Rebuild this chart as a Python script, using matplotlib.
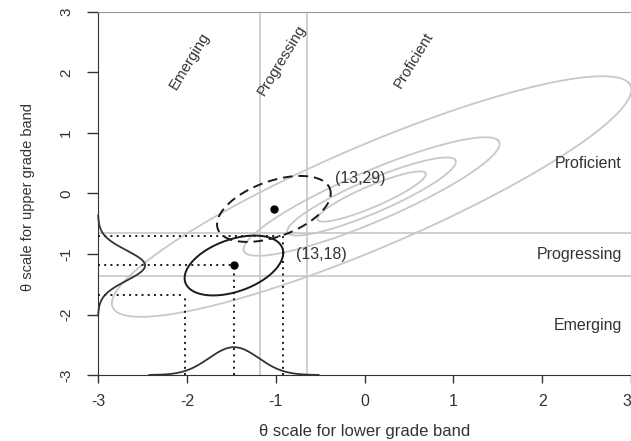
import numpy as np
import matplotlib
matplotlib.use("Agg")
import matplotlib.pyplot as plt

plt.rcParams["font.family"] = ["Liberation Sans", "DejaVu Sans"]
plt.rcParams["axes.unicode_minus"] = False

# cut scores on the theta scale
cuts_lower = [-1.18, -0.65]   # lower grade band (vertical lines)
cuts_upper = [-1.36, -0.65]   # upper grade band (horizontal lines)

# population contours: centre, angle (deg), semi-major axes, minor/major ratio
pop_cx, pop_cy = 0.08, -0.05
pop_angle = 33.0
pop_major = [3.45, 1.70, 1.12, 0.72]
pop_ratio = 0.225

# student ellipses (13,18) and (13,29)
ell_names = ["(13,18)", "(13,29)"]
ell_cx = [-1.47, -1.02]
ell_cy = [-1.19, -0.255]
ell_hx = [0.555, 0.64]
ell_hy = [0.495, 0.545]
ell_r = [0.42, 0.47]
ell_ls = ["-", (0, (5, 3))]
name_x = [-0.77, -0.33]
name_y = [-1.0, 0.24]

# marginal densities of (13,18)
marg_sd_x = 0.28
marg_sd_y = 0.25
marg_peak_x = 0.46
marg_peak_y = 0.53

levels = ["Emerging", "Progressing", "Proficient"]
right_y = [-2.19, -1.0, 0.49]
top_x = [-1.97, -0.93, 0.55]
top_y = 2.2

ticks = [-3, -2, -1, 0, 1, 2, 3]

fig = plt.figure(figsize=(6.31, 4.41), dpi=100)
ax = fig.add_axes([98 / 631, 1 - 375 / 441, 533 / 631, 363 / 441])
ax.set_xlim(-3, 3)
ax.set_ylim(-3, 3)

grey = "#cccccc"
dark = "#1a1a1a"

for c in cuts_lower:
    ax.axvline(c, color=grey, lw=1.3, zorder=1)
for c in cuts_upper:
    ax.axhline(c, color=grey, lw=1.3, zorder=1)

# population contours
t = np.linspace(0, 2 * np.pi, 400)
th = np.deg2rad(pop_angle)
for a in pop_major:
    u = a * np.cos(t)
    v = a * pop_ratio * np.sin(t)
    ax.plot(pop_cx + u * np.cos(th) - v * np.sin(th),
            pop_cy + u * np.sin(th) + v * np.cos(th),
            color="#c8c8c8", lw=1.3, zorder=2)

# dotted guide lines from the (13,18) ellipse
cx, cy, hx, hy = ell_cx[0], ell_cy[0], ell_hx[0], ell_hy[0]
for px, py in [(cx - hx, cy - hy), (cx, cy), (cx + hx, cy + hy)]:
    ax.plot([-3, px], [py, py], color=dark, lw=1.4, ls=(0, (1, 2.2)), zorder=3)
    ax.plot([px, px], [-3, py], color=dark, lw=1.4, ls=(0, (1, 2.2)), zorder=3)

# marginal densities
xs = np.linspace(cx - 3.4 * marg_sd_x, cx + 3.4 * marg_sd_x, 200)
ax.plot(xs, -3 + marg_peak_x * np.exp(-0.5 * ((xs - cx) / marg_sd_x) ** 2),
        color="#333333", lw=1.3, zorder=4, clip_on=False)
ys = np.linspace(cy - 3.3 * marg_sd_y, cy + 3.3 * marg_sd_y, 200)
ax.plot(-3 + marg_peak_y * np.exp(-0.5 * ((ys - cy) / marg_sd_y) ** 2), ys,
        color="#333333", lw=1.3, zorder=4, clip_on=False)

# student ellipses
for i in range(2):
    r = ell_r[i]
    ex = ell_cx[i] + ell_hx[i] * np.cos(t)
    ey = ell_cy[i] + ell_hy[i] * (r * np.cos(t) + np.sqrt(1 - r * r) * np.sin(t))
    ax.plot(ex, ey, color=dark, lw=1.4, ls=ell_ls[i], zorder=5)
    ax.plot(ell_cx[i], ell_cy[i], "o", color="black", ms=5, zorder=6)
    ax.text(name_x[i], name_y[i], ell_names[i], fontsize=11.5, color="#333333",
            ha="left", va="center")

# level labels
for i in range(3):
    ax.text(2.9, right_y[i], levels[i], fontsize=11.5, color="#333333",
            ha="right", va="center")
    ax.text(top_x[i], top_y, levels[i], fontsize=10.8, color="#333333",
            ha="center", va="center", rotation=58.6, rotation_mode="anchor")

ax.set_xticks(ticks)
ax.set_yticks(ticks)
ax.set_xticklabels([str(v) for v in ticks], fontsize=11.5, color="#333333")
ax.set_yticklabels([str(v) for v in ticks], fontsize=11, color="#333333",
                   rotation=90, va="center")
# last x label sits at the figure edge: keep it inside
ax.get_xticklabels()[-1].set_horizontalalignment("right")
ax.tick_params(axis="x", length=6, width=1, color="#333333", pad=8)
ax.tick_params(axis="y", length=8, width=1, color="#333333", pad=10)

ax.spines["right"].set_visible(False)
ax.spines["top"].set_color("#999999")
ax.spines["left"].set_color("#333333")
ax.spines["bottom"].set_color("#333333")

ax.set_xlabel("θ scale for lower grade band", fontsize=12, color="#333333")
ax.set_ylabel("θ scale for upper grade band", fontsize=10.5, color="#333333")
ax.xaxis.set_label_coords(0.5, -0.135)
ax.yaxis.set_label_coords(-0.118, 0.49)

fig.savefig("out.png", dpi=100)
